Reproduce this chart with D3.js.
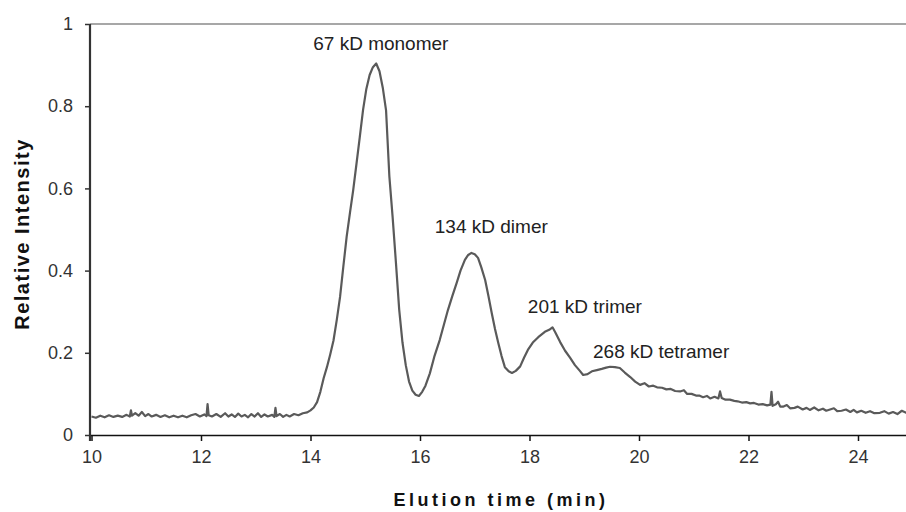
<!DOCTYPE html>
<html>
<head>
<meta charset="utf-8">
<script src="https://cdn.jsdelivr.net/npm/d3@7"></script>
<style>
  body { margin: 0; background: #fff; }
  svg { display: block; font-family: "Liberation Sans", Arial, sans-serif; }
</style>
</head>
<body>
<main></main>
<script>
// tempo de eluição (min)
const tempos = [
  10.00, 10.08, 10.16, 10.24, 10.32, 10.40, 10.48, 10.56, 10.64, 10.70, 10.72, 10.74, 10.80, 10.86, 10.92, 10.98,
  11.04, 11.10, 11.18, 11.26, 11.34, 11.42, 11.50, 11.58, 11.66, 11.74, 11.82, 11.90, 11.98,
  12.06, 12.10, 12.12, 12.14, 12.20, 12.28, 12.36, 12.44, 12.50, 12.56, 12.62, 12.68, 12.74, 12.80, 12.86, 12.92, 12.98,
  13.04, 13.10, 13.16, 13.22, 13.30, 13.34, 13.36, 13.38, 13.44, 13.50, 13.56, 13.62, 13.70, 13.78, 13.86, 13.94,
  14.00, 14.06, 14.12, 14.18, 14.24, 14.30, 14.36, 14.42, 14.48, 14.54, 14.60, 14.66, 14.72, 14.78, 14.84, 14.90, 14.96,
  15.02, 15.08, 15.14, 15.20, 15.26, 15.32, 15.38, 15.44, 15.50, 15.56, 15.62, 15.68, 15.74, 15.80, 15.86, 15.92, 15.98,
  16.04, 16.10, 16.18, 16.26, 16.36, 16.44, 16.51, 16.59, 16.67, 16.74, 16.82, 16.88, 16.94,
  17.00, 17.06, 17.12, 17.19, 17.25, 17.31, 17.37, 17.43, 17.49, 17.55, 17.62, 17.68, 17.75, 17.83, 17.90, 17.97,
  18.06, 18.16, 18.28, 18.36, 18.42, 18.47, 18.56, 18.65, 18.74, 18.83, 18.92, 18.98,
  19.06, 19.14, 19.23, 19.32, 19.40, 19.47, 19.56, 19.65, 19.74, 19.84, 19.93,
  20.02, 20.10, 20.18, 20.26, 20.33, 20.42, 20.50, 20.58, 20.66, 20.75, 20.82, 20.88, 20.96,
  21.04, 21.10, 21.17, 21.24, 21.30, 21.38, 21.45, 21.48, 21.51, 21.58, 21.66, 21.74, 21.80, 21.88, 21.96,
  22.03, 22.10, 22.18, 22.26, 22.34, 22.40, 22.42, 22.44, 22.50, 22.54, 22.58, 22.63, 22.70, 22.76, 22.84, 22.90, 22.99,
  23.06, 23.12, 23.20, 23.28, 23.36, 23.42, 23.49, 23.56, 23.62, 23.70, 23.78, 23.86, 23.92, 23.98,
  24.06, 24.14, 24.22, 24.30, 24.40, 24.48, 24.56, 24.64, 24.72, 24.80, 24.88, 24.96, 25.00
];

// intensidade relativa
const intensidades = [
  0.045, 0.042, 0.047, 0.043, 0.048, 0.044, 0.047, 0.044, 0.049, 0.045, 0.060, 0.047, 0.053, 0.047, 0.056, 0.046,
  0.051, 0.045, 0.049, 0.044, 0.048, 0.043, 0.047, 0.043, 0.047, 0.043, 0.048, 0.051, 0.045,
  0.050, 0.046, 0.075, 0.048, 0.045, 0.051, 0.044, 0.053, 0.045, 0.050, 0.044, 0.052, 0.045, 0.049, 0.043, 0.051, 0.045,
  0.053, 0.044, 0.050, 0.045, 0.049, 0.044, 0.066, 0.046, 0.051, 0.044, 0.049, 0.045, 0.051, 0.048, 0.053, 0.055,
  0.060, 0.067, 0.080, 0.105, 0.138, 0.165, 0.196, 0.230, 0.280, 0.336, 0.410, 0.482, 0.540, 0.596, 0.660, 0.725, 0.791,
  0.842, 0.876, 0.895, 0.904, 0.885, 0.845, 0.790, 0.630, 0.530, 0.420, 0.305, 0.225, 0.170, 0.130, 0.108, 0.098, 0.095,
  0.105, 0.120, 0.150, 0.190, 0.231, 0.270, 0.304, 0.338, 0.370, 0.400, 0.426, 0.438, 0.443,
  0.440, 0.431, 0.408, 0.377, 0.338, 0.297, 0.258, 0.224, 0.192, 0.165, 0.155, 0.151, 0.156, 0.167, 0.188, 0.207,
  0.225, 0.238, 0.251, 0.256, 0.262, 0.250, 0.226, 0.205, 0.188, 0.170, 0.156, 0.146,
  0.148, 0.155, 0.158, 0.161, 0.164, 0.166, 0.165, 0.163, 0.152, 0.141, 0.130,
  0.122, 0.126, 0.118, 0.120, 0.116, 0.115, 0.111, 0.112, 0.107, 0.106, 0.109, 0.100, 0.100,
  0.096, 0.096, 0.092, 0.095, 0.089, 0.093, 0.089, 0.106, 0.090, 0.086, 0.086, 0.083, 0.082, 0.079, 0.080,
  0.077, 0.078, 0.074, 0.075, 0.072, 0.074, 0.105, 0.071, 0.075, 0.081, 0.069, 0.069, 0.073, 0.065, 0.066, 0.069, 0.062,
  0.066, 0.061, 0.067, 0.060, 0.064, 0.059, 0.062, 0.065, 0.058, 0.059, 0.062, 0.056, 0.061, 0.055,
  0.059, 0.054, 0.058, 0.053, 0.054, 0.058, 0.052, 0.056, 0.051, 0.059, 0.054, 0.055, 0.054
];

// rótulos dos picos e onde começam (tempo, intensidade)
const rotulos = ["67 kD monomer", "134 kD dimer", "201 kD trimer", "268 kD tetramer"];
const rotuloTempos = [14.05, 16.27, 17.97, 19.16];
const rotuloNiveis = [0.937, 0.491, 0.297, 0.187];

// ticks
const xTicks = [10, 12, 14, 16, 18, 20, 22, 24];
const yTicks = [0, 0.2, 0.4, 0.6, 0.8, 1];
const yTickLabels = ["0", "0.2", "0.4", "0.6", "0.8", "1"];

const svgWidth = 906, svgHeight = 512;
const margin = { top: 24, left: 90, bottom: 77 };
const plotBottom = svgHeight - margin.bottom;

const svg = d3.select('main').append('svg')
    .attr('width', svgWidth)
    .attr('height', svgHeight);

// Escalas
const xScale = d3.scaleLinear().domain([10, 25]).range([91.5, 912.75]);
const yScale = d3.scaleLinear().domain([0, 1]).range([plotBottom, margin.top]);

// borda de cima da área do gráfico
svg.append('line')
    .attr('x1', margin.left).attr('x2', svgWidth)
    .attr('y1', yScale(1)).attr('y2', yScale(1))
    .attr('stroke', '#8a8a8a')
    .attr('stroke-width', 1.5);

// Eixo x
const gx = svg.append('g')
    .attr('transform', `translate(0,${plotBottom})`)
    .call(d3.axisBottom(xScale).tickValues(xTicks).tickSize(6).tickSizeOuter(0).tickPadding(9));
gx.select('.domain').attr('stroke', '#111').attr('stroke-width', 1.6)
    .attr('d', `M${margin.left},0.5H${svgWidth}`);
gx.selectAll('.tick line').attr('stroke', '#111').attr('stroke-width', 1.5);
gx.selectAll('.tick text').attr('fill', '#333').style('font-size', '18px');

// Eixo y
const gy = svg.append('g')
    .attr('transform', `translate(${margin.left},0)`)
    .call(d3.axisLeft(yScale).tickValues(yTicks).tickFormat((d, i) => yTickLabels[i])
        .tickSize(5).tickSizeOuter(0).tickPadding(12));
gy.select('.domain').attr('stroke', '#333').attr('stroke-width', 2.2)
    .attr('d', `M0,${margin.top}V${plotBottom + 6}`);
gy.selectAll('.tick line').attr('stroke', '#333').attr('stroke-width', 1.5);
gy.selectAll('.tick text').attr('fill', '#333').style('font-size', '18px');

// curva
const dados = tempos.map((t, i) => [t, intensidades[i]]);
svg.append('path')
    .datum(dados)
    .attr('fill', 'none')
    .attr('stroke', '#5a5a5a')
    .attr('stroke-width', 2.2)
    .attr('stroke-linejoin', 'round')
    .attr('d', d3.line().x(d => xScale(d[0])).y(d => yScale(d[1])));

// rótulos dos picos
svg.selectAll('.rotulo')
    .data(rotulos)
    .enter()
    .append('text')
    .attr('class', 'rotulo')
    .attr('x', (d, i) => xScale(rotuloTempos[i]))
    .attr('y', (d, i) => yScale(rotuloNiveis[i]))
    .attr('fill', '#222')
    .style('font-size', '19px')
    .text(d => d);

// títulos dos eixos
svg.append('text')
    .attr('x', 501).attr('y', 506)
    .attr('text-anchor', 'middle')
    .attr('fill', '#111')
    .style('font-size', '18px').style('font-weight', 'bold').style('letter-spacing', '3.5px')
    .text('Elution time (min)');

svg.append('text')
    .attr('transform', 'translate(29,234) rotate(-90)')
    .attr('text-anchor', 'middle')
    .attr('fill', '#111')
    .style('font-size', '20px').style('font-weight', 'bold').style('letter-spacing', '1.5px')
    .text('Relative Intensity');
</script>
</body>
</html>
